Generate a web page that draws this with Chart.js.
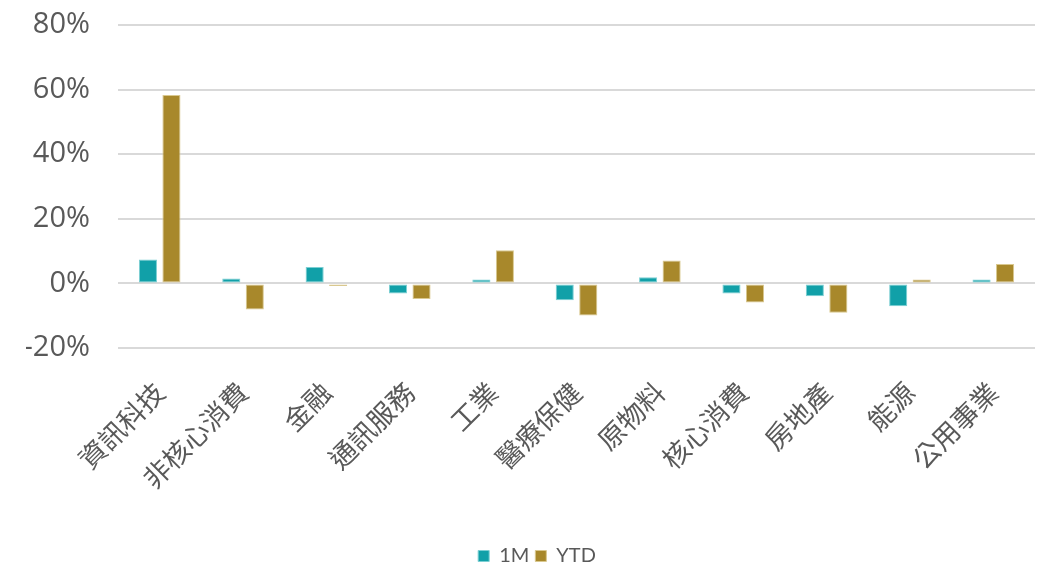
<!DOCTYPE html>
<html>
<head>
<meta charset="utf-8">
<script src="https://cdn.jsdelivr.net/npm/chart.js@4/dist/chart.umd.min.js"></script>
<style>
html,body{margin:0;padding:0;background:#fff;}
#wrap{width:1048px;height:567px;position:relative;}
</style>
</head>
<body>
<div id="wrap"><canvas id="c" width="1048" height="567"></canvas></div>
<script>
const categories = ['資訊科技','非核心消費','金融','通訊服務','工業','醫療保健','原物料','核心消費','房地產','能源','公用事業'];
const values1M  = [7.4, 1.5, 5.1, -3.1, 1.2, -5.2, 1.9, -3.1, -4.0, -7.1, 1.2];
const valuesYTD = [58.3, -8.1, -0.8, -4.8, 10.3, -9.9, 7.1, -5.9, -9.1, 1.2, 6.0];
const yTicks = [-20, 0, 20, 40, 60, 80];

new Chart(document.getElementById('c'), {
  type: 'bar',
  data: {
    labels: categories,
    datasets: [
      { label: '1M', data: values1M, backgroundColor: '#11A0A8', borderColor: '#7ccfd3', borderWidth: 1, borderSkipped: false },
      { label: 'YTD', data: valuesYTD, backgroundColor: '#A8882B', borderColor: '#d9c88f', borderWidth: 1, borderSkipped: false }
    ]
  },
  options: {
    responsive: false,
    animation: false,
    devicePixelRatio: 1,
    layout: { padding: { left: 26, right: 0, top: 25, bottom: -9 } },
    datasets: { bar: { categoryPercentage: 0.564, barPercentage: 0.77 } },
    plugins: {
      legend: {
        position: 'bottom',
        labels: { boxWidth: 11, boxHeight: 11, color: '#595959', font: { family: 'Lato', size: 20 }, padding: 6 }
      },
      tooltip: { enabled: false }
    },
    scales: {
      x: {
        grid: { display: false },
        border: { display: false },
        ticks: { color: '#595959', font: { family: 'Noto Sans CJK TC', size: 27 }, minRotation: 45, maxRotation: 45, padding: 20 },
        afterFit: s => { s.height = 192; }
      },
      y: {
        min: -20, max: 80,
        afterBuildTicks: s => { s.ticks = yTicks.map(v => ({ value: v })); },
        grid: { color: '#d9d9d9', lineWidth: 2, drawTicks: false },
        border: { display: false },
        ticks: { color: '#595959', font: { family: 'Open Sans', size: 29 }, padding: 28, callback: v => v + '%' },
        afterFit: s => { s.width = 92; s.paddingTop = 0; s.paddingBottom = 0; }
      },
      yPad: {
        type: 'linear',
        position: 'right',
        grid: { display: false },
        border: { display: false },
        ticks: { display: false },
        afterFit: s => { s.width = 13; s.paddingTop = 0; s.paddingBottom = 0; }
      }
    }
  }
});
</script>
</body>
</html>
